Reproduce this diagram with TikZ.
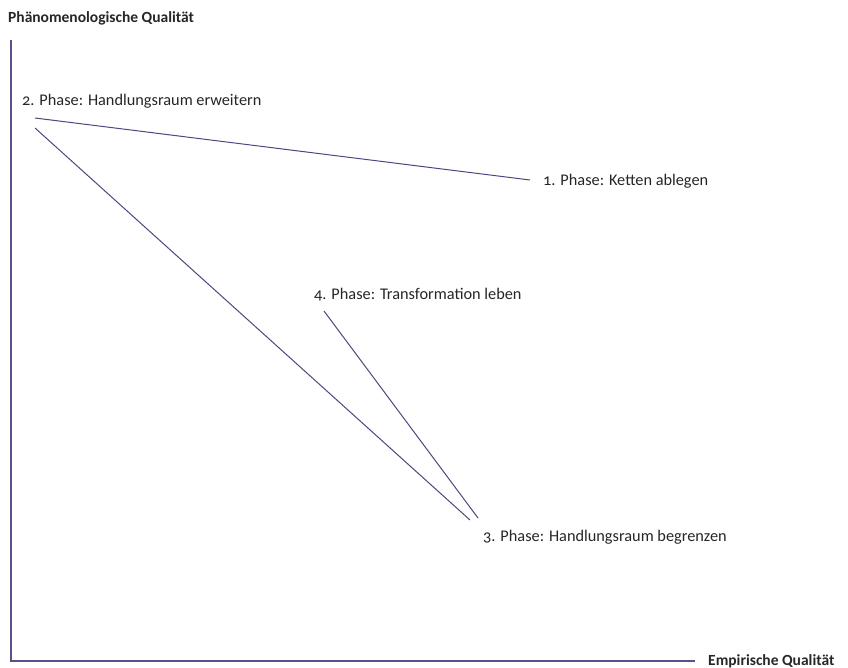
\documentclass[tikz,border=0pt]{standalone}
\usepackage{fontspec}
\setmainfont[Numbers=OldStyle]{Carlito}
\usepackage{tikz}
\usetikzlibrary{positioning}
\definecolor{PhaseLine}{HTML}{51457F}
\definecolor{AxisLine}{HTML}{5E4F8C}

\begin{document}
\begin{tikzpicture}[
  x=1pt,y=-1pt,
  font=\fontsize{16.3}{19}\selectfont,
  phase/.style={anchor=west,inner sep=0pt,text=black!85},
  axislabel/.style={font=\fontsize{15.5}{18}\selectfont\bfseries,inner sep=0pt,text=black!85},
  axis/.style={draw=AxisLine,line width=1.4pt},
  link/.style={draw=PhaseLine,line width=1pt}
]
\useasboundingbox (0,0) rectangle (848,668);

% axes
\coordinate (origin) at (11,661);
\coordinate (ytop) at (11,40);
\coordinate (xend) at (695,661);
\node[axislabel,anchor=west] (ylabel) at (8,18) {Phänomenologische Qualität};
\node[axislabel,anchor=base west] (xlabel) at (708,665) {Empirische Qualität};
\draw[axis] (ytop) -- (origin) -- (xend);

% phases
\node[phase] (phase2) at (22,101) {2. Phase: Handlungsraum erweitern};
\node[phase] (phase1) at (543,181) {1. Phase: Ketten ablegen};
\node[phase] (phase4) at (314,295) {4. Phase: Transformation leben};
\node[phase] (phase3) at (483,537) {3. Phase: Handlungsraum begrenzen};

\coordinate (p2a) at (35,118);
\coordinate (p2b) at (35,128);
\coordinate (p1) at (530,180);
\coordinate (p3a) at (470,520);
\coordinate (p3b) at (478,518);
\coordinate (p4) at (324,311);

\draw[link] (p2a) -- (p1);
\draw[link] (p2b) -- (p3a);
\draw[link] (p4) -- (p3b);
\end{tikzpicture}
\end{document}
